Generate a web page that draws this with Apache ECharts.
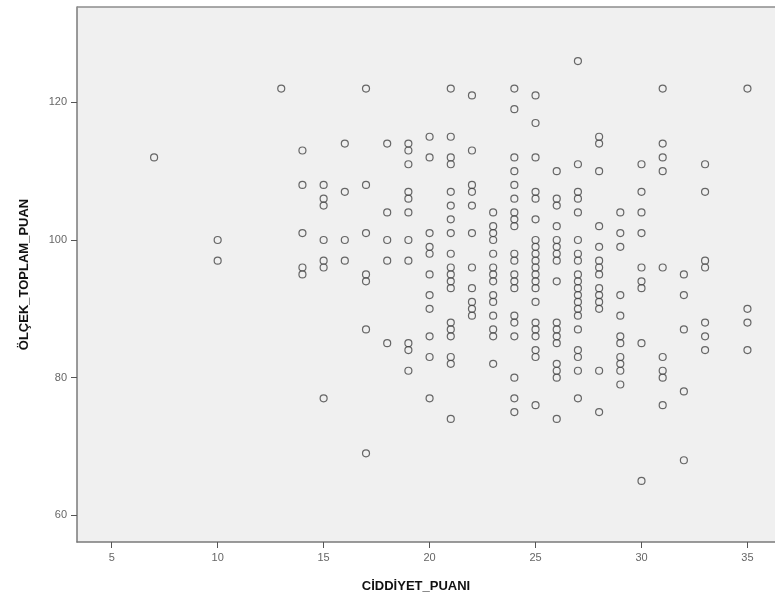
<!DOCTYPE html>
<html>
<head>
<meta charset="utf-8">
<script src="https://cdn.jsdelivr.net/npm/echarts@6/dist/echarts.min.js"></script>
<style>html,body{margin:0;padding:0;background:#fff}#c{width:775px;height:600px}</style>
</head>
<body>
<div id="c"></div>
<script>
// CİDDİYET_PUANI values (x) and the ÖLÇEK_TOPLAM_PUAN values observed at each
const xValues = [7, 10, 13, 14, 15, 16, 17, 18, 19, 20, 21, 22, 23, 24, 25, 26, 27, 28, 29, 30, 31, 32, 33, 35];
const yAt7  = [112];
const yAt10 = [100, 97];
const yAt13 = [122];
const yAt14 = [113, 108, 101, 96, 95];
const yAt15 = [108, 106, 105, 100, 97, 96, 77];
const yAt16 = [114, 107, 100, 97];
const yAt17 = [122, 108, 101, 95, 94, 87, 69];
const yAt18 = [114, 104, 100, 97, 85];
const yAt19 = [114, 113, 111, 107, 106, 104, 100, 97, 85, 84, 81];
const yAt20 = [115, 112, 101, 99, 98, 95, 92, 90, 86, 83, 77];
const yAt21 = [122, 115, 112, 111, 107, 105, 103, 101, 98, 96, 95, 94, 93, 88, 87, 86, 83, 82, 74];
const yAt22 = [121, 113, 108, 107, 105, 101, 96, 93, 91, 90, 89];
const yAt23 = [104, 102, 101, 100, 98, 96, 95, 94, 92, 91, 89, 87, 86, 82];
const yAt24 = [122, 119, 112, 110, 108, 106, 104, 103, 102, 98, 97, 95, 94, 93, 89, 88, 86, 80, 77, 75];
const yAt25 = [121, 117, 112, 107, 106, 103, 100, 99, 98, 97, 96, 95, 94, 93, 91, 88, 87, 86, 84, 83, 76];
const yAt26 = [110, 106, 105, 102, 100, 99, 98, 97, 94, 88, 87, 86, 85, 82, 81, 80, 74];
const yAt27 = [126, 111, 107, 106, 104, 100, 98, 97, 95, 94, 93, 92, 91, 90, 89, 87, 84, 83, 81, 77];
const yAt28 = [115, 114, 110, 102, 99, 97, 96, 95, 93, 92, 91, 90, 81, 75];
const yAt29 = [104, 101, 99, 92, 89, 86, 85, 83, 82, 81, 79];
const yAt30 = [111, 107, 104, 101, 96, 94, 93, 85, 65];
const yAt31 = [122, 114, 112, 110, 96, 83, 81, 80, 76];
const yAt32 = [95, 92, 87, 78, 68];
const yAt33 = [111, 107, 97, 96, 88, 86, 84];
const yAt35 = [122, 90, 88, 84];
const yGroups = [yAt7, yAt10, yAt13, yAt14, yAt15, yAt16, yAt17, yAt18, yAt19, yAt20, yAt21, yAt22,
                 yAt23, yAt24, yAt25, yAt26, yAt27, yAt28, yAt29, yAt30, yAt31, yAt32, yAt33, yAt35];
const xTicks = [5, 10, 15, 20, 25, 30, 35];
const yTicks = [60, 80, 100, 120];
const xName = 'CİDDİYET_PUANI';
const yName = 'ÖLÇEK_TOPLAM_PUAN';

const points = [];
xValues.forEach((x, i) => yGroups[i].forEach(y => points.push([x, y])));

const chart = echarts.init(document.getElementById('c'), null, {renderer: 'canvas'});
const font = 'Arial, "Liberation Sans", sans-serif';
chart.setOption({
  animation: false,
  backgroundColor: '#ffffff',
  graphic: [{
    type: 'line', z: 10,
    shape: {x1: 77, y1: 7, x2: 775, y2: 7},
    style: {stroke: '#8c8c8c', lineWidth: 1.5}
  }],
  grid: {left: 77, top: 7, right: 0, bottom: 58, show: true, backgroundColor: '#f0f0f0', borderWidth: 0},
  xAxis: {
    type: 'value', min: 3.362, max: 36.3,
    name: xName, nameLocation: 'middle', nameGap: 38,
    nameTextStyle: {fontFamily: font, fontWeight: 'bold', fontSize: 13, color: '#111', padding: [0, 20, 0, 0]},
    axisLine: {show: true, onZero: false, lineStyle: {color: '#7a7a7a', width: 1.5}},
    axisTick: {show: true, length: 6, customValues: xTicks, lineStyle: {color: '#555'}},
    axisLabel: {customValues: xTicks, fontFamily: font, fontSize: 11, color: '#666', margin: 10},
    splitLine: {show: false}
  },
  yAxis: {
    type: 'value', min: 56.12, max: 133.85,
    name: yName, nameLocation: 'middle', nameGap: 46, nameRotate: 90,
    nameTextStyle: {fontFamily: font, fontWeight: 'bold', fontSize: 13, color: '#111'},
    axisLine: {show: true, onZero: false, lineStyle: {color: '#7a7a7a', width: 1.5}},
    axisTick: {show: true, length: 6, customValues: yTicks, lineStyle: {color: '#555'}},
    axisLabel: {customValues: yTicks, fontFamily: font, fontSize: 11, color: '#666', margin: 10},
    splitLine: {show: false}
  },
  series: [{
    type: 'scatter',
    data: points,
    symbol: 'circle',
    symbolSize: 7,
    itemStyle: {color: 'rgba(0,0,0,0)', borderColor: '#444', borderWidth: 1.2},
    emphasis: {disabled: true}
  }]
});
</script>
</body>
</html>
